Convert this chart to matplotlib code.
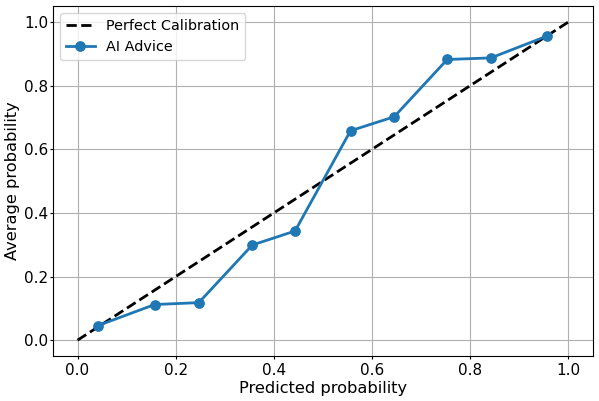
import matplotlib
matplotlib.use("Agg")
import matplotlib.pyplot as plt

# calibration bins (mean predicted prob, fraction of positives)
pred_prob = [0.042, 0.157, 0.247, 0.356, 0.443, 0.556, 0.645, 0.753, 0.842, 0.957]
avg_prob = [0.046, 0.112, 0.118, 0.299, 0.343, 0.658, 0.702, 0.882, 0.887, 0.956]
perfect = [0, 1]

fig = plt.figure(figsize=(5.99, 4.01), dpi=100)
ax = fig.add_axes([0.0885, 0.112, 0.9015, 0.873])

ax.plot(perfect, perfect, "k--", lw=2, label="Perfect Calibration")
ax.plot(pred_prob, avg_prob, marker="o", color="#1f77b4", lw=2, ms=6.7, label="AI Advice")

ax.set_xlabel("Predicted probability", fontsize=11.7, labelpad=2)
ax.set_ylabel("Average probability", fontsize=11.7, labelpad=3)
ax.tick_params(labelsize=11, length=2, pad=3)
ax.tick_params(axis="y", pad=1.5)
ax.grid(True)
ax.legend(loc="upper left", fontsize=10.4)

fig.savefig("out.png", dpi=100)
